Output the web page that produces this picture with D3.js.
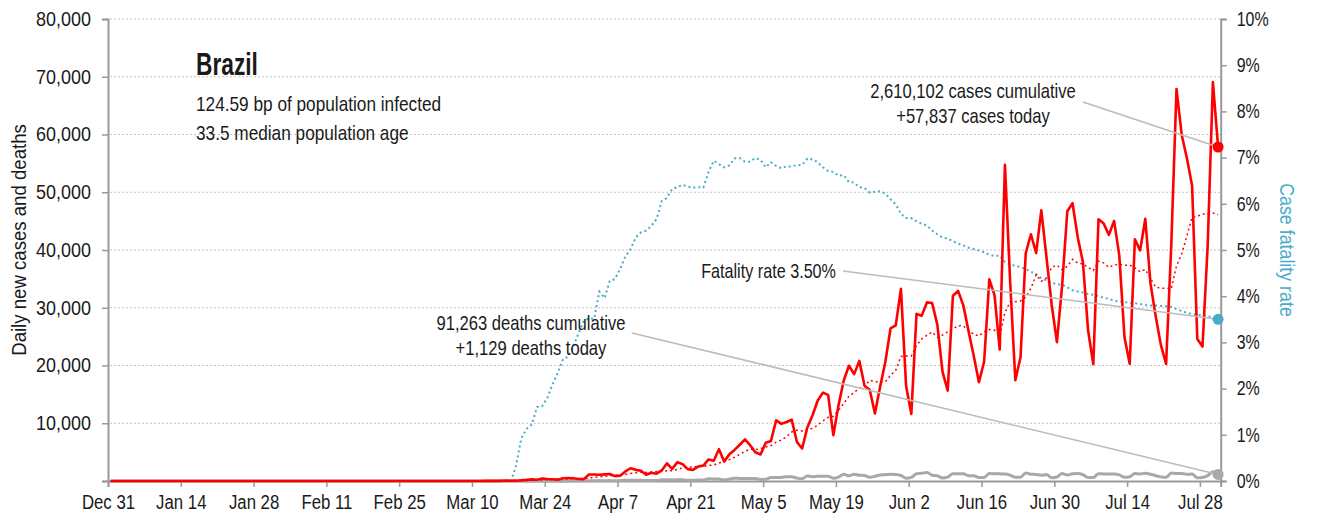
<!DOCTYPE html>
<html>
<head>
<meta charset="utf-8">
<script src="https://cdn.jsdelivr.net/npm/d3@7"></script>
<style>
  body { margin: 0; background: #fff; }
  svg text { font-family: "Liberation Sans", Arial, sans-serif; fill: #1a1a1a; }
</style>
</head>
<body>
<svg width="1317" height="520"></svg>
<script>
// one value per day, starting Dec 31 (index 0) and ending Jul 31
const startDate = new Date(2019, 11, 31);

const dailyCases = [
  0,
  0,0,0,0,0,0,0,0,0,0, 0,0,0,0,0,0,0,0,0,0, 0,0,0,0,0,0,0,0,0,0, 0,
  0,0,0,0,0,0,0,0,0,0, 0,0,0,0,0,0,0,0,0,0, 0,0,0,0,0,0,1,0,0,
  1,0,0,0,1,5,5,6,6,0, 9,18,25,21,23,79,34,57,137,193, 283,224,418,345,310,232,482,502,487,352, 323,
  1138,1119,1074,1146,1222,852,926,1661,2210,1930, 1781,1089,1442,1261,1832,3058,2105,3257,2917,2055,
  1927,2498,2678,3735,3503,5514,3379,4613,5385,6276,
  7218,6209,4970,4588,6633,6935,10503,9888,10222,10611, 6760,5632,9258,11385,13944,15305,14919,7938,13140,17408,
  19951,18508,20803,16508,15813,11687,16324,20599,26417,26928, 33274,
  16409,11598,28936,28633,30925,30830,27075,18912,15654,32091, 32913,30412,25982,21704,17110,20647,34918,32188,22765,54771,
  34666,17459,21432,39436,42725,39483,46860,38693,30476,24052,
  33846,46712,48105,42223,37923,26051,20229,45305,44571,42619, 45048,39023,24831,20286,41857,39924,45403,34177,28532,23529,
  20257,41008,67860,59961,55891,51147,24578,23284,40816,69074, 57837
];

const avgCases = [
  0,
  0,0,0,0,0,0,0,0,0,0, 0,0,0,0,0,0,0,0,0,0, 0,0,0,0,0,0,0,0,0,0, 0,
  0,0,0,0,0,0,0,0,0,0, 0,0,0,0,0,0,0,0,0,0, 0,0,0,0,0,0,0,0,0,
  0,0,0,0,0,1,2,3,3,3, 4,7,10,12,15,25,30,37,54,78, 115,144,192,237,273,286,328,359,397,387, 384,
  502,629,714,806,911,982,1068,1143,1299,1421, 1512,1493,1577,1625,1649,1770,1795,2006,2267,2355,
  2450,2545,2491,2724,2759,3130,3319,3703,4115,4629,
  5127,5513,5436,5608,5897,6118,6722,7104,7677,8483, 8793,8650,8982,9108,9687,10414,11029,11197,12270,13434,
  14658,15310,16095,16322,17447,17240,17085,17177,18307,19182, 21577,
  21663,21650,23452,24599,25243,25801,24915,25273,25852,26303, 26914,26841,26148,25381,25124,25837,26241,26137,25045,29158,
  31009,31059,31171,31817,33322,35710,34580,35155,37015,37389,
  36591,37160,38392,37730,37620,36987,36441,38078,37772,36989, 37392,37549,37375,37383,36891,36227,36625,35072,33573,33387,
  33383,33261,37252,39332,42434,45665,45815,46247,46220,46393, 46090
];

const dailyDeaths = [
  0,
  0,0,0,0,0,0,0,0,0,0, 0,0,0,0,0,0,0,0,0,0, 0,0,0,0,0,0,0,0,0,0, 0,
  0,0,0,0,0,0,0,0,0,0, 0,0,0,0,0,0,0,0,0,0, 0,0,0,0,0,0,0,0,0,
  0,0,0,0,0,0,0,0,0,0, 0,0,0,0,0,0,0,1,3,3, 4,7,7,9,12,11,20,15,22,22, 23,
  42,39,84,35,86,41,67,114,133,141, 115,68,99,105,204,204,188,217,206,115,
  113,166,165,407,357,346,189,338,474,449,
  435,428,421,275,296,600,615,610,751,730, 496,396,881,749,844,824,816,485,674,1179,
  888,1188,1001,965,653,807,1039,1086,1156,1124, 956,
  480,623,1262,1349,1473,1005,904,525,679,1272, 1274,1239,909,892,612,627,1282,1269,1238,1206,
  1022,641,654,1374,1185,1141,990,1109,552,692,
  1280,1038,1252,1290,1091,602,620,1254,1223,1220, 1214,1071,631,733,1300,1233,1322,1163,921,716,
  632,1367,1284,1311,1156,1211,555,614,921,1595, 1129
];

// case fatality rate, percent
const fatalityRate = [
  0,
  0,0,0,0,0,0,0,0,0,0, 0,0,0,0,0,0,0,0,0,0, 0,0,0,0,0,0,0,0,0,0, 0,
  0,0,0,0,0,0,0,0,0,0, 0,0,0,0,0,0,0,0,0,0, 0,0,0,0,0,0,0,0,0,
  0,0,0,0,0,0,0,0,0,0, 0,0,0,0,0,0,0,0.34,0.93,1.13, 1.22,1.60,1.62,1.80,2.09,2.34,2.64,2.69,2.92,3.20, 3.47,
  3.52,3.51,4.10,3.96,4.33,4.37,4.59,4.86,5.02,5.27, 5.38,5.42,5.52,5.67,6.06,6.13,6.32,6.36,6.41,6.37,
  6.35,6.36,6.35,6.69,6.93,6.86,6.79,6.83,6.98,6.99,
  6.91,6.91,6.99,6.95,6.79,6.90,6.82,6.77,6.81,6.81, 6.84,6.84,6.98,6.96,6.90,6.79,6.71,6.69,6.61,6.62,
  6.47,6.46,6.36,6.34,6.24,6.26,6.27,6.22,6.10,5.99, 5.78,
  5.69,5.69,5.62,5.57,5.53,5.42,5.34,5.27,5.25,5.19, 5.14,5.10,5.05,5.02,4.99,4.95,4.90,4.87,4.88,4.74,
  4.68,4.66,4.63,4.59,4.53,4.48,4.39,4.34,4.29,4.26,
  4.25,4.19,4.13,4.10,4.08,4.05,4.03,4.00,3.97,3.94, 3.91,3.88,3.87,3.86,3.85,3.83,3.81,3.80,3.80,3.79,
  3.78,3.77,3.72,3.68,3.64,3.61,3.60,3.59,3.57,3.53, 3.50
];

const leftTicks = [10000, 20000, 30000, 40000, 50000, 60000, 70000, 80000];
const rightTicks = [0, 1, 2, 3, 4, 5, 6, 7, 8, 9, 10];

const country = "Brazil";
const infoLines = ["124.59 bp of population infected", "33.5 median population age"];
const casesNote = ["2,610,102 cases cumulative", "+57,837 cases today"];
const deathsNote = ["91,263 deaths cumulative", "+1,129 deaths today"];
const rateNote = "Fatality rate 3.50%";

const svg = d3.select("svg");
const red = "#ff0000";
const blue = "#4aabc8";
const grey = "#a8a8a8";

// the original face is a condensed grotesque; squeeze the installed one to fit
function squeeze(sel, k) {
  sel.each(function () {
    const w = this.getComputedTextLength();
    d3.select(this).attr("textLength", w * k).attr("lengthAdjust", "spacingAndGlyphs");
  });
}

const x = d3.scaleTime()
  .domain([startDate, d3.timeDay.offset(startDate, 214)])
  .range([108, 1220.7]);
const y = d3.scaleLinear().domain([0, 80000]).range([481, 19]);
const yR = d3.scaleLinear().domain([0, 10]).range([481, 19]);

// points sit at the middle of each day
const dayX = i => x(d3.timeHour.offset(d3.timeDay.offset(startDate, i), 12));

// grid
svg.append("g")
  .selectAll("line")
  .data(leftTicks)
  .join("line")
  .attr("x1", 110).attr("x2", 1220)
  .attr("y1", d => y(d)).attr("y2", d => y(d))
  .attr("stroke", "#c4c4c4")
  .attr("stroke-dasharray", "2,2");

// axes
const fmt = d3.format(",");
const gl = svg.append("g").attr("transform", "translate(108,0)")
  .call(d3.axisLeft(y).tickValues([0].concat(leftTicks)).tickFormat(d => d === 0 ? "" : fmt(d)).tickSize(6).tickPadding(11));
const gr = svg.append("g").attr("transform", "translate(1220.7,0)")
  .call(d3.axisRight(yR).tickValues(rightTicks).tickFormat(d => d + "%").tickSize(6).tickPadding(10));
const tickDates = d3.timeDay.range(startDate, d3.timeDay.offset(startDate, 214), 14);
const gx = svg.append("g").attr("transform", "translate(0,481)")
  .call(d3.axisBottom(x).tickValues(tickDates).tickFormat(d3.timeFormat("%b %-d")).tickSize(6).tickPadding(8));

[gl, gr, gx].forEach(g => {
  g.select(".domain").attr("stroke", "#999").attr("stroke-width", 2);
  g.selectAll(".tick line").attr("stroke", "#999").attr("stroke-width", 1.5);
  g.selectAll("text").attr("font-size", 19.5)
    .attr("font-family", "'Liberation Sans', Arial, sans-serif")
    .attr("fill", "#1a1a1a");
});
gr.selectAll("text").attr("fill", blue);
squeeze(gl.selectAll("text"), 0.92);
squeeze(gr.selectAll("text"), 0.82);
squeeze(gx.selectAll("text"), 0.86);

// axis titles
squeeze(svg.append("text")
  .attr("transform", "translate(26,240) rotate(-90)")
  .attr("text-anchor", "middle")
  .attr("font-size", 20)
  .text("Daily new cases and deaths"), 0.93);
squeeze(svg.append("text")
  .attr("transform", "translate(1280,250) rotate(90)")
  .attr("text-anchor", "middle")
  .attr("font-size", 20)
  .style("fill", blue)
  .text("Case fatality rate"), 0.89);

// series
const lineCases = d3.line().x((d, i) => dayX(i)).y(d => y(d));
const lineRate = d3.line().x((d, i) => dayX(i)).y(d => yR(d));

svg.append("path").datum(fatalityRate)
  .attr("d", lineRate)
  .attr("fill", "none").attr("stroke", blue)
  .attr("stroke-width", 2).attr("stroke-dasharray", "2,3");

svg.append("path").datum(dailyDeaths)
  .attr("d", lineCases.curve(d3.curveMonotoneX))
  .attr("fill", "none").attr("stroke", grey).attr("stroke-width", 3);
lineCases.curve(d3.curveLinear);

svg.append("path").datum(avgCases)
  .attr("d", lineCases)
  .attr("fill", "none").attr("stroke", red)
  .attr("stroke-width", 1.5).attr("stroke-dasharray", "2,3");

svg.append("path").datum(dailyCases)
  .attr("d", lineCases)
  .attr("fill", "none").attr("stroke", red)
  .attr("stroke-width", 2.6).attr("stroke-linejoin", "round");

// call-outs
const last = dailyCases.length - 1;
const callouts = [
  { from: [1083, 102], to: [dayX(last), y(dailyCases[last])], color: red },
  { from: [843, 271], to: [dayX(last), yR(fatalityRate[last])], color: blue },
  { from: [632, 333], to: [dayX(last), y(dailyDeaths[last])], color: grey }
];
svg.append("g").selectAll("line")
  .data(callouts)
  .join("line")
  .attr("x1", d => d.from[0]).attr("y1", d => d.from[1])
  .attr("x2", d => d.to[0]).attr("y2", d => d.to[1])
  .attr("stroke", "#bbb").attr("stroke-width", 1.5);
svg.append("g").selectAll("circle")
  .data(callouts)
  .join("circle")
  .attr("cx", d => d.to[0]).attr("cy", d => d.to[1])
  .attr("r", 5.5).attr("fill", d => d.color);

squeeze(svg.append("g").selectAll("text")
  .data(casesNote)
  .join("text")
  .attr("x", 973).attr("y", (d, i) => 98 + i * 25)
  .attr("text-anchor", "middle")
  .attr("font-size", 21)
  .text(d => d), 0.79);

squeeze(svg.append("g").selectAll("text")
  .data(deathsNote)
  .join("text")
  .attr("x", 531).attr("y", (d, i) => 330 + i * 25)
  .attr("text-anchor", "middle")
  .attr("font-size", 21)
  .text(d => d), 0.79);

squeeze(svg.append("text").attr("x", 836).attr("y", 278).attr("text-anchor", "end")
  .attr("font-size", 21).text(rateNote), 0.77);

// title block
squeeze(svg.append("text").attr("x", 196).attr("y", 75)
  .attr("font-size", 32).attr("font-weight", "bold").text(country), 0.71);
squeeze(svg.append("g").selectAll("text")
  .data(infoLines)
  .join("text")
  .attr("x", 196).attr("y", (d, i) => 111 + i * 29)
  .attr("font-size", 21)
  .text(d => d), 0.82);
</script>
</body>
</html>
